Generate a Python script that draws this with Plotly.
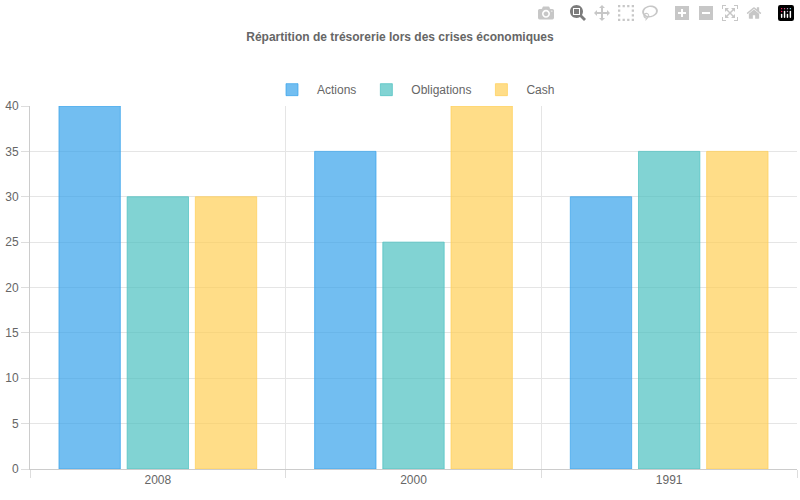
import plotly.graph_objects as go

years = ["2008", "2000", "1991"]
actions = [40, 35, 30]
obligations = [30, 25, 35]
cash = [30, 40, 35]

series = [("Actions", actions, "rgba(54,162,235,0.7)"),
          ("Obligations", obligations, "rgba(75,192,192,0.7)"),
          ("Cash", cash, "rgba(255,206,86,0.7)")]

fig = go.Figure()
xs = list(range(len(years)))
for name, vals, fill in series:
    fig.add_bar(x=xs, y=vals, name=name, marker=dict(color=fill, line=dict(color=fill, width=1)))

fig.update_layout(
    width=800, height=500, plot_bgcolor="white", paper_bgcolor="white",
    font=dict(family="Liberation Sans, Arial", size=12, color="#666"),
    title=dict(text="<b>Répartition de trésorerie lors des crises économiques</b>", x=0.5, y=0.926,
               xanchor="center", yanchor="middle", font=dict(size=12, color="#666")),
    margin=dict(l=30, r=3, t=106, b=31),
    bargap=0.2, bargroupgap=0.1,
    legend=dict(orientation="h", x=0.5, xanchor="center", y=1.045, yanchor="middle",
                font=dict(size=12, color="#666"), itemwidth=40),
    xaxis=dict(range=[-0.5, 2.5], tickvals=xs, ticktext=years, showgrid=False, zeroline=False,
               showline=True, linecolor="#ccc", ticks="", automargin=False,
               minor=dict(tick0=-0.5, dtick=1, showgrid=True, gridcolor="#e5e5e5",
                          ticks="outside", ticklen=8, tickcolor="#ddd")),
    yaxis=dict(range=[0, 40], dtick=5, gridcolor="#e5e5e5", zeroline=False, showline=True,
               linecolor="#ccc", ticks="outside", ticklen=8, tickcolor="#ddd", automargin=False),
)
html = fig.to_html(full_html=True)
html = html.replace("<body>", '<body style="margin:0;padding:0;">', 1)
with open("out.html", "w", encoding="utf-8") as f:
    f.write(html)
